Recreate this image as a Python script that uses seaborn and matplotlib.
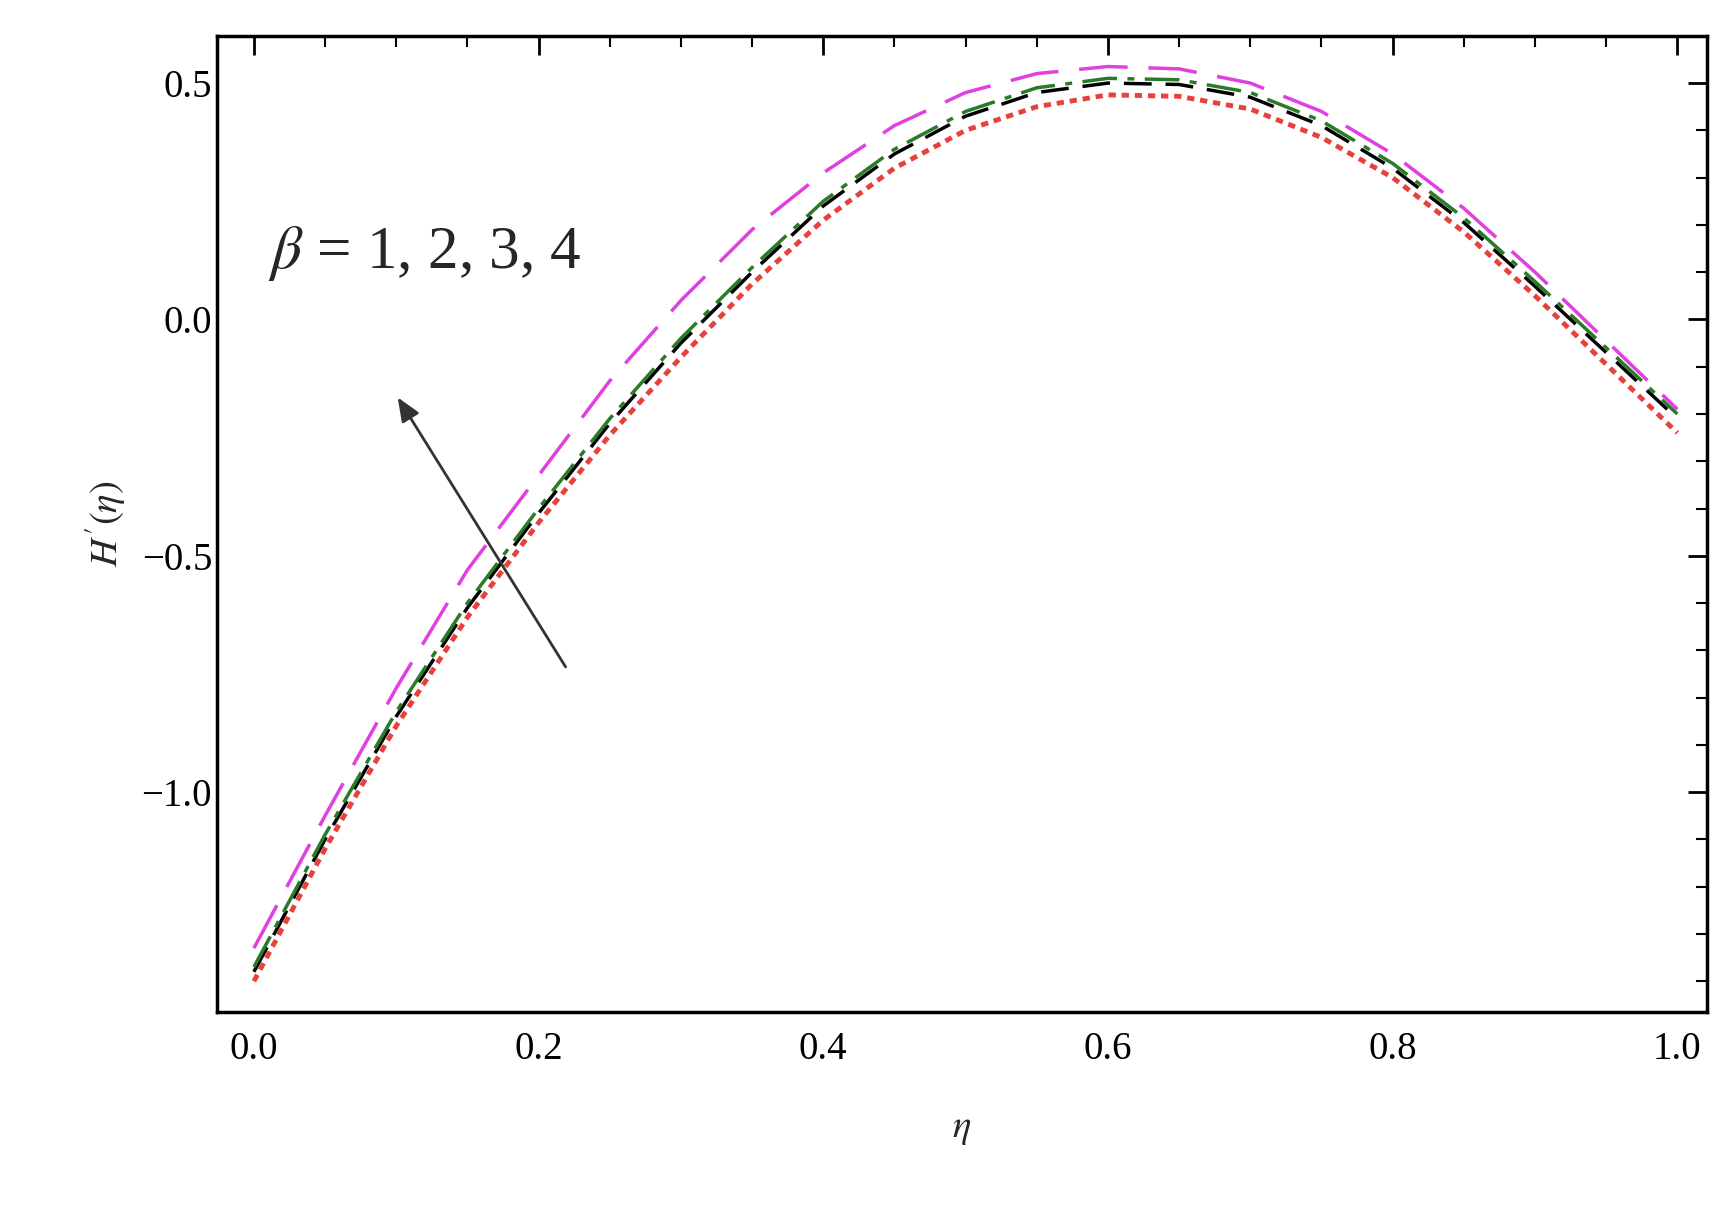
import matplotlib
matplotlib.use("Agg")
import matplotlib.pyplot as plt
import seaborn as sns
import numpy as np

sns.set_theme(style="white")
plt.rcParams['font.family'] = ['Liberation Serif', 'DejaVu Serif']
plt.rcParams['mathtext.fontset'] = 'stix'

eta = [0.0, 0.05, 0.1, 0.15, 0.2, 0.25, 0.3, 0.35, 0.4, 0.45, 0.5, 0.55, 0.6, 0.65, 0.7, 0.75, 0.8, 0.85, 0.9, 0.95, 1.0]
beta1 = [-1.40, -1.12, -0.86, -0.63, -0.43, -0.245, -0.08, 0.075, 0.21, 0.32, 0.40, 0.45, 0.475, 0.472, 0.445, 0.385, 0.30, 0.185, 0.05, -0.095, -0.24]
beta2 = [-1.38, -1.10, -0.84, -0.61, -0.41, -0.22, -0.05, 0.10, 0.24, 0.35, 0.43, 0.48, 0.50, 0.497, 0.47, 0.41, 0.32, 0.205, 0.07, -0.07, -0.21]
beta3 = [-1.37, -1.09, -0.83, -0.60, -0.40, -0.21, -0.04, 0.11, 0.25, 0.36, 0.44, 0.49, 0.51, 0.507, 0.48, 0.42, 0.33, 0.215, 0.08, -0.06, -0.20]
beta4 = [-1.33, -1.05, -0.78, -0.53, -0.33, -0.13, 0.04, 0.19, 0.31, 0.41, 0.48, 0.52, 0.535, 0.53, 0.50, 0.44, 0.35, 0.235, 0.10, -0.045, -0.19]

fig = plt.figure(figsize=(17.35, 12.09), dpi=100)
ax = fig.add_axes([0.125, 0.163, 0.859, 0.807])

styles = [(beta1, '#e8403a', (0, (1.5, 1.2)), 3.5),
          (beta2, 'black', (0, (8, 4)), 2.5),
          (beta3, '#2a7a2a', (0, (10, 3, 2, 3)), 2.5),
          (beta4, '#e040e0', (0, (14, 6)), 2.5)]
for ys, c, ls, lw in styles:
    sns.lineplot(x=eta, y=ys, ax=ax, color=c, linestyle=ls, linewidth=lw)

ax.set_xlim(-0.026, 1.021)
ax.set_ylim(-1.465, 0.599)
ax.set_xticks([0.0, 0.2, 0.4, 0.6, 0.8, 1.0])
ax.set_xticklabels(['0.0', '0.2', '0.4', '0.6', '0.8', '1.0'])
ax.set_yticks([-1.0, -0.5, 0.0, 0.5])
ax.set_yticklabels(['\u22121.0', '\u22120.5', '0.0', '0.5'])
ax.set_xticks(np.arange(0, 1.01, 0.05), minor=True)
ax.set_yticks(np.arange(-1.4, 0.6, 0.1), minor=True)
ax.tick_params(which='both', direction='in', top=True, right=True, labelsize=28, colors='black')
ax.tick_params(which='major', length=14, width=2)
ax.tick_params(which='minor', length=8, width=1.5)
ax.tick_params(axis='x', pad=14)
for s in ax.spines.values():
    s.set_linewidth(2.5)
    s.set_color('black')

ax.set_xlabel(r'$\eta$', fontsize=28, labelpad=30)
ax.set_ylabel(r"$H'(\eta)$", fontsize=28, labelpad=10)

ax.annotate('', xy=(0.1, -0.16), xytext=(0.22, -0.74),
            arrowprops=dict(arrowstyle='-|>,head_length=1.2,head_width=0.5', color='#333333', lw=2))
ax.text(0.01, 0.14, r'$\beta$ = 1, 2, 3, 4', fontsize=44, va='center')

fig.savefig('out.png', dpi=100)
